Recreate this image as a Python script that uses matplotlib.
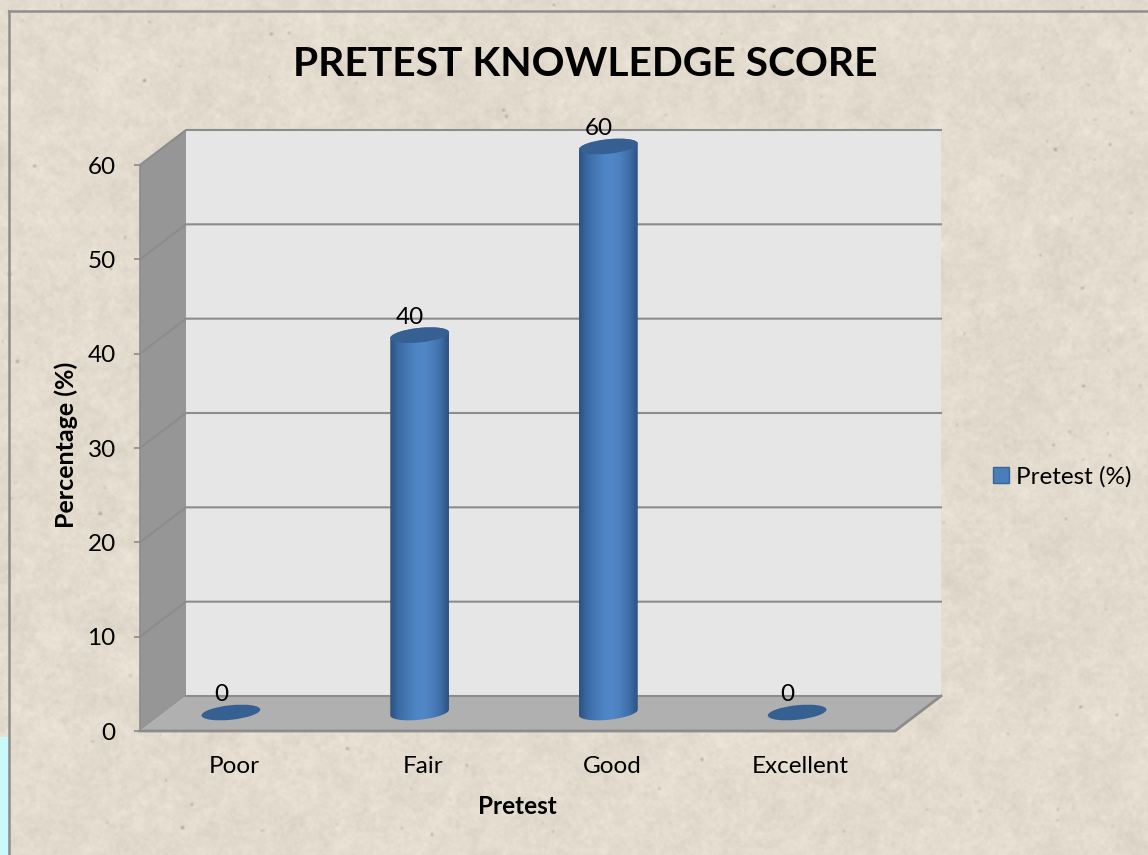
# plot.py
# 3D-look cylinder chart, drawn on a flat axes with a pixel offset for depth.

import numpy as np
import matplotlib
matplotlib.use("Agg")
import matplotlib.pyplot as plt
from matplotlib.patches import Ellipse, Polygon, Patch
from matplotlib.path import Path
from matplotlib.colors import LinearSegmentedColormap
from matplotlib.transforms import IdentityTransform

plt.rcParams["font.family"] = ["Lato", "DejaVu Sans"]

categories = ["Poor", "Fair", "Good", "Excellent"]
pretest = [0, 40, 60, 0]
y_ticks = [0, 10, 20, 30, 40, 50, 60]

W, H = 1148, 855
DEPTH = (46, 35)
BAR_SHIFT = (-3.5, 18.5)
BAR_HALF = 29.5
CAP_H = 14.5
CAP_ANGLE = 6.0

fig = plt.figure(figsize=(W / 100, H / 100), dpi=100)


def soften(a, r):
    # cheap box blur, paper texture only
    out = a.copy()
    for axis in (0, 1):
        out = sum(np.roll(out, k, axis=axis) for k in range(-r, r + 1)) / (2 * r + 1)
    return out


# ------------------------------------------------------------
# paper background
# ------------------------------------------------------------
bg = fig.add_axes([0, 0, 1, 1])
bg.set_axis_off()
rng = np.random.default_rng(7)
tex = np.zeros((H, W))
for cell, amp, r in [(1, 4.0, 1), (4, 3.0, 2), (12, 2.5, 6), (40, 1.5, 20)]:
    n = rng.normal(0, amp, (H // cell + 2, W // cell + 2))
    tex += soften(np.kron(n, np.ones((cell, cell)))[:H, :W], r)
# small dark specks
specks = np.zeros((H, W))
for _ in range(300):
    sy, sx = rng.integers(0, H - 4), rng.integers(0, W - 4)
    specks[sy:sy + rng.integers(1, 4), sx:sx + rng.integers(1, 4)] -= rng.uniform(15, 60)
tex += soften(specks, 1)
base = np.array([227, 219, 206], dtype=float)
img = np.clip(base[None, None, :] + tex[:, :, None], 0, 255) / 255
# cyan page showing through at bottom left
img[737:, :8] = np.array([200, 250, 252]) / 255
bg.imshow(img, extent=(0, W, H, 0), aspect="auto", interpolation="nearest")
bg.set_xlim(0, W)
bg.set_ylim(H, 0)
bg.plot([8.5, 8.5], [H, 11.5], color="#8e8e8e", lw=1.8)
bg.plot([8.5, W], [11.5, 11.5], color="#8e8e8e", lw=1.8)

# ------------------------------------------------------------
# chart axes = front plane of the box
# ------------------------------------------------------------
ax = fig.add_axes([140 / W, (H - 731) / H, 755 / W, 566 / H])
ax.patch.set_alpha(0)
x = np.arange(len(categories))
ax.set_xlim(-0.5, len(categories) - 0.5)
ax.set_ylim(min(y_ticks), max(y_ticks))
for s in ax.spines.values():
    s.set_visible(False)


def px(xv, yv, shift=(0, 0)):
    p = ax.transData.transform((xv, yv))
    return p[0] + shift[0], p[1] + shift[1]


x0, x1 = ax.get_xlim()
ident = IdentityTransform()
grid_col = "#8c8c8c"

# walls and floor
ax.add_patch(Polygon([px(x0, 0, DEPTH), px(x1, 0, DEPTH), px(x1, 60, DEPTH), px(x0, 60, DEPTH)],
                     closed=True, transform=ident, fc="#e6e6e6", ec="none", zorder=1, clip_on=False))
ax.add_patch(Polygon([px(x0, 0), px(x0, 0, DEPTH), px(x0, 60, DEPTH), px(x0, 60)],
                     closed=True, transform=ident, fc="#969696", ec="none", zorder=1, clip_on=False))
for v in y_ticks[1:]:
    a, b, c = px(x0, v), px(x0, v, DEPTH), px(x1, v, DEPTH)
    ax.plot([a[0], b[0], c[0]], [a[1], b[1], c[1]], transform=ident, color=grid_col,
            lw=1.5, zorder=2, clip_on=False, solid_joinstyle="miter")
ax.add_patch(Polygon([px(x0, 0), px(x1, 0), px(x1, 0, DEPTH), px(x0, 0, DEPTH)],
                     closed=True, transform=ident, fc="#b0b0b0", ec="none", zorder=3, clip_on=False))
a, b, c, d = px(x0, 0, DEPTH), px(x0, 0), px(x1, 0), px(x1, 0, DEPTH)
ax.plot([a[0], d[0]], [a[1], d[1]], transform=ident, color=grid_col, lw=1.5, zorder=3, clip_on=False)
ax.plot([b[0], c[0], d[0]], [b[1], c[1], d[1]], transform=ident, color=grid_col, lw=2, zorder=3, clip_on=False)
ax.plot([b[0], px(x0, 60)[0]], [b[1], px(x0, 60)[1]], transform=ident, color=grid_col, lw=1.2, zorder=3, clip_on=False)

# cylinders
shade = LinearSegmentedColormap.from_list(
    "cyl", ["#2a4e7a", "#3a6aa2", "#4577b3", "#4e85c4", "#5088c8", "#4a7ebb", "#3d6da6", "#2a4d78"])
cap_col = "#365f92"
grad = np.linspace(0, 1, 128)[None, :]
ang = np.deg2rad(CAP_ANGLE)


def cap_xy(cx, cy, theta):
    ex, ey = BAR_HALF * np.cos(theta), (CAP_H / 2) * np.sin(theta)
    return cx + ex * np.cos(ang) - ey * np.sin(ang), cy + ex * np.sin(ang) + ey * np.cos(ang)


for xi, val in zip(x, pretest):
    bx, by = px(xi, 0, BAR_SHIFT)
    tx, ty = px(xi, val, BAR_SHIFT)
    if val > 0:
        low = np.linspace(np.pi, 2 * np.pi, 37)
        high = np.linspace(0, np.pi, 37)
        pts = np.vstack([np.column_stack(cap_xy(bx, by, low)),
                         np.column_stack(cap_xy(tx, ty, high))])
        im = ax.imshow(grad, cmap=shade, aspect="auto", zorder=4,
                       extent=(bx - BAR_HALF - 1, bx + BAR_HALF + 1, by - 12, ty + 12),
                       transform=ident)
        im.set_clip_box(fig.bbox)
        im.set_clip_path(Path(np.vstack([pts, pts[:1]]), closed=True), ident)
    ax.add_patch(Ellipse((tx, ty), BAR_HALF * 2, CAP_H, angle=CAP_ANGLE, transform=ident,
                         fc=cap_col, ec="none", zorder=5, clip_on=False))
    ax.text(tx - 9.5, ty + 18, str(val), transform=ident, ha="center", va="center",
            fontsize=17.5, color="black", zorder=6, clip_on=False)

ax.set_xlim(x0, x1)
ax.set_ylim(min(y_ticks), max(y_ticks))

# ticks
ax.set_yticks(y_ticks)
ax.tick_params(axis="y", length=4.5, width=1.2, color=grid_col, pad=13, labelsize=17.5, labelcolor="black")
ax.set_xticks(x, categories)
ax.tick_params(axis="x", length=0, pad=18, labelsize=17.5, labelcolor="black")

# titles
fig.text(585 / W, 1 - 65 / H, "PRETEST KNOWLEDGE SCORE", ha="center", va="center",
         fontsize=29.3, fontweight="bold", color="black")
fig.text(517 / W, 1 - 806 / H, "Pretest", ha="center", va="center",
         fontsize=17.5, fontweight="bold", color="black")
fig.text(66 / W, 1 - 445 / H, "Percentage (%)", ha="center", va="center", rotation=90,
         fontsize=18, fontweight="bold", color="black")

# legend
fig.legend(handles=[Patch(fc="#4a7ebb", ec="#3a6597", label="Pretest (%)")],
           loc="center left", bbox_to_anchor=(993 / W, 1 - 477 / H), frameon=False,
           fontsize=17.5, handlelength=0.66, handleheight=0.66, handletextpad=0.3,
           borderpad=0, borderaxespad=0)

fig.savefig("out.png", dpi=100)
